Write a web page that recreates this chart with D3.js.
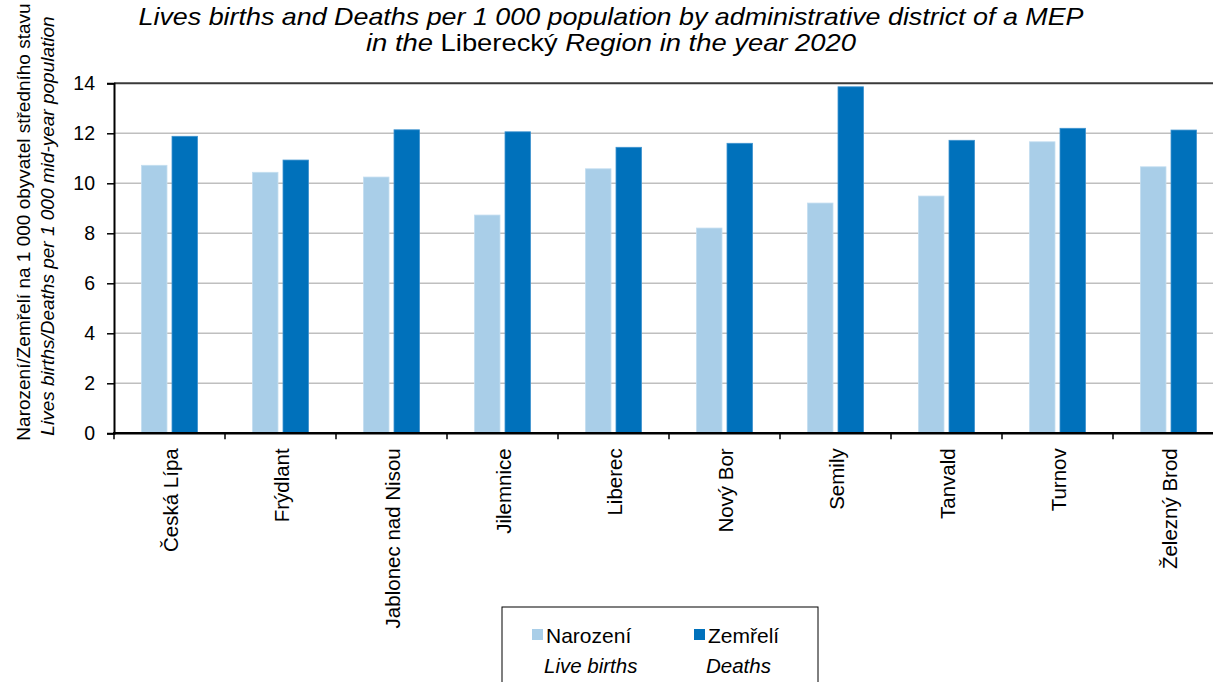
<!DOCTYPE html>
<html><head><meta charset="utf-8">
<script src="https://cdn.jsdelivr.net/npm/d3@7"></script>
<style>
html,body{margin:0;padding:0;background:#fff;overflow:hidden;}
text{font-family:"Liberation Sans",Arial,sans-serif;fill:#000;}
</style></head>
<body>
<svg id="chart" width="1213" height="682"></svg>
<script>
const categories = ["Česká Lípa","Frýdlant","Jablonec nad Nisou","Jilemnice","Liberec","Nový Bor","Semily","Tanvald","Turnov","Železný Brod"];
const births = [10.72,10.44,10.25,8.73,10.58,8.21,9.21,9.49,11.66,10.66];
const deaths = [11.88,10.93,12.14,12.06,11.44,11.60,13.86,11.72,12.20,12.13];
const seriesKeys = ["births","deaths"];
const seriesNamesCz = ["Narození","Zemřelí"];
const seriesNamesEn = ["Live births","Deaths"];
const seriesColors = ["#a9cee8","#0071bb"];
const yTicks = [0,2,4,6,8,10,12,14];

(function(){
const svg = d3.select("#chart");
const W = 1213;
const mLeft = 114, plotRight = 1224, mTop = 83.3, mBottom = 433.3;

const x0 = d3.scaleBand().domain(categories).range([mLeft, plotRight]).paddingInner(0).paddingOuter(0);
const x1 = d3.scaleBand().domain(seriesKeys).range([0, x0.bandwidth()]).paddingInner(0.164).paddingOuter(0.9);
const y = d3.scaleLinear().domain([0,14]).range([mBottom, mTop]);

// gridlines
svg.append("g").selectAll("line").data(yTicks.filter(t => t > 0 && t < 14)).join("line")
  .attr("x1", mLeft).attr("x2", W).attr("y1", d => y(d)).attr("y2", d => y(d))
  .attr("stroke", "#bfbfbf").attr("stroke-width", 1.5);
svg.append("line").attr("x1", mLeft).attr("x2", W).attr("y1", y(14)).attr("y2", y(14))
  .attr("stroke", "#3a3a3a").attr("stroke-width", 2);

// bars
const data = categories.map((c, i) => ({cat: c, births: births[i], deaths: deaths[i]}));
const g = svg.append("g").selectAll("g").data(data).join("g")
  .attr("transform", d => `translate(${x0(d.cat)},0)`);
g.selectAll("rect").data(d => seriesKeys.map((k, j) => ({k, v: d[k], j}))).join("rect")
  .attr("x", d => x1(d.k)).attr("width", x1.bandwidth())
  .attr("y", d => y(d.v)).attr("height", d => y(0) - y(d.v))
  .attr("fill", d => seriesColors[d.j])
  .attr("stroke", d => d.j === 0 ? "#c4def0" : "#3f93cf").attr("stroke-width", 0.8);

// y axis
const yAxis = d3.axisLeft(y).tickValues(yTicks).tickSize(7).tickPadding(12).tickFormat(d3.format("d"));
const ya = svg.append("g").attr("transform", `translate(${mLeft},0)`).call(yAxis);
ya.select(".domain").attr("stroke", "#000").attr("stroke-width", 2);
ya.selectAll(".tick line").attr("stroke", "#000").attr("stroke-width", 1.5);
ya.selectAll(".tick text").attr("font-size", 19.5).attr("font-family", "Liberation Sans, Arial, sans-serif");

// x axis
const boundaries = categories.map(c => x0(c));
svg.append("line").attr("x1", mLeft - 1).attr("x2", W).attr("y1", mBottom).attr("y2", mBottom)
  .attr("stroke", "#000").attr("stroke-width", 2.5);
svg.append("g").selectAll("line").data(boundaries).join("line")
  .attr("x1", d => d).attr("x2", d => d).attr("y1", mBottom).attr("y2", mBottom + 6)
  .attr("stroke", "#000").attr("stroke-width", 1.5);
svg.append("g").selectAll("text").data(categories).join("text")
  .attr("transform", d => `translate(${x0(d) + x0.bandwidth()/2 + 8},${mBottom + 15}) rotate(-90)`)
  .attr("text-anchor", "end").attr("font-size", 20.5)
  .text(d => d);

// title
const title = svg.append("g").attr("font-size", 24).attr("text-anchor", "middle");
title.append("text").attr("x", 611).attr("y", 25).attr("font-style", "italic")
  .attr("textLength", 945).attr("lengthAdjust", "spacingAndGlyphs")
  .text("Lives births and Deaths per 1 000 population by administrative district of a MEP");
const t2 = title.append("text").attr("x", 611).attr("y", 51)
  .attr("textLength", 490).attr("lengthAdjust", "spacingAndGlyphs");
t2.append("tspan").attr("font-style", "italic").text("in the ");
t2.append("tspan").text("Liberecký");
t2.append("tspan").attr("font-style", "italic").text(" Region in the year 2020");

// y title
svg.append("text").attr("transform", "translate(30,222) rotate(-90)").attr("text-anchor", "middle")
  .attr("font-size", 19).text("Narození/Zemřelí na 1 000 obyvatel středního stavu");
svg.append("text").attr("transform", "translate(54,226) rotate(-90)").attr("text-anchor", "middle")
  .attr("font-size", 19).attr("font-style", "italic").text("Lives births/Deaths per 1 000 mid-year population");

// legend
const lg = svg.append("g");
lg.append("rect").attr("x", 502).attr("y", 607).attr("width", 316).attr("height", 100)
  .attr("fill", "#fff").attr("stroke", "#000").attr("stroke-width", 1);
const items = lg.selectAll("g").data(seriesKeys).join("g")
  .attr("transform", (d, i) => `translate(${i === 0 ? 532 : 694},0)`);
items.append("rect").attr("x", 0).attr("y", 629).attr("width", 11).attr("height", 11)
  .attr("fill", (d, i) => seriesColors[i]);
items.append("text").attr("x", 14).attr("y", 643).attr("font-size", 21)
  .text((d, i) => seriesNamesCz[i]);
items.append("text").attr("x", 12).attr("y", 673).attr("font-size", 20.5)
  .attr("font-style", "italic").text((d, i) => seriesNamesEn[i]);
})();
</script>
</body></html>
